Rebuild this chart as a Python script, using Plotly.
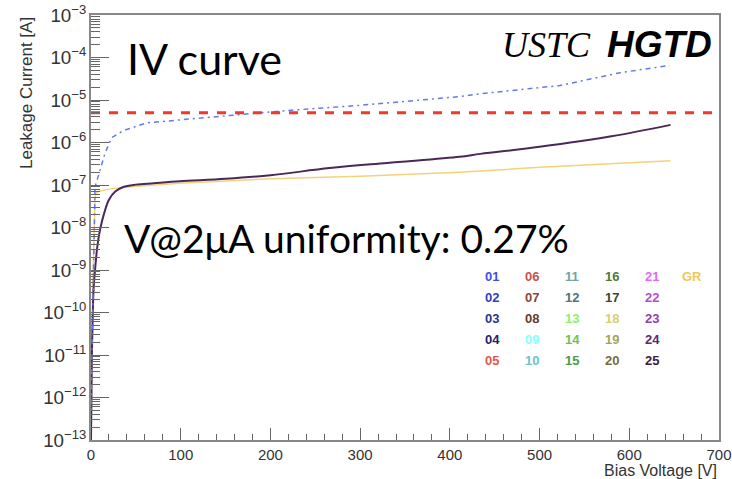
import plotly.graph_objects as go

# sensor 01 (blue, dash-dot) - reads off the picture
v_01 = [0, 1, 2, 3, 4.5, 10, 15.6, 23, 36, 62, 99, 150, 211, 300, 411, 434, 523, 590, 645]
i_01 = [5e-13, 1e-11, 5e-10, 1e-8, 9e-8, 2.2e-7, 5.6e-7, 1.3e-6, 1.9e-6, 2.9e-6, 3.4e-6,
        4.3e-6, 5.5e-6, 7.5e-6, 1.2e-5, 1.4e-5, 2.2e-5, 4.4e-5, 6.5e-5]

# sensor 25 (dark purple, solid) - the other pads sit underneath it
v_25 = [0, 0.5, 1, 2, 3, 4.5, 7, 10, 15, 20, 27, 36, 50, 70, 99, 150, 200, 266, 330,
        411, 434, 500, 580, 646]
i_25 = [1e-13, 1e-12, 1e-11, 1e-10, 4e-10, 1e-9, 3.5e-9, 8.7e-9, 2.3e-8, 4.5e-8, 7e-8,
        9e-8, 1.02e-7, 1.1e-7, 1.22e-7, 1.4e-7, 1.7e-7, 2.5e-7, 3.3e-7, 4.6e-7, 5.4e-7,
        7.9e-7, 1.4e-6, 2.6e-6]

# guard ring (yellow, solid)
v_gr = [1.5, 2, 2.5, 3, 3.5, 4, 4.5, 6, 10, 20, 40, 99, 200, 300, 411, 500, 646]
i_gr = [1.5e-10, 5e-10, 2e-9, 6e-9, 1.5e-8, 3e-8, 5e-8, 6.5e-8, 7.2e-8, 8e-8, 9e-8,
        1.1e-7, 1.4e-7, 1.6e-7, 2e-7, 2.6e-7, 3.7e-7]

limit_current = 5e-6
x_range = [0, 700]

legend_labels = ["01", "02", "03", "04", "05", "06", "07", "08", "09", "10",
                 "11", "12", "13", "14", "15", "16", "17", "18", "19", "20",
                 "21", "22", "23", "24", "25", "GR"]
legend_colors = ["#3d4fe6", "#2f3fb8", "#2b3592", "#1f2468", "#e8564a",
                 "#c4544c", "#8a4638", "#6a3a2c", "#86ffff", "#6cc3c8",
                 "#6aa6a6", "#4d7574", "#8cf06a", "#68c45a", "#4e9a46",
                 "#4d7a3a", "#45452f", "#d6d070", "#a6a35c", "#766c3c",
                 "#e468f2", "#b052c8", "#9442aa", "#5c2a72", "#3a1c40",
                 "#f2c85c"]

# plot-area box in pixels (ROOT canvas frame)
L, R, T, B = 91, 719, 15, 440


def px(x):
    return (x - L) / (R - L)


def py(y):
    return (B - y) / (B - T)


fig = go.Figure()

fig.add_trace(go.Scatter(x=v_gr, y=i_gr, mode="lines",
                         line=dict(color="#f5d27a", width=1.5)))
fig.add_trace(go.Scatter(x=v_25, y=i_25, mode="lines", line_shape="spline",
                         line=dict(color="#4a2858", width=2)))
fig.add_trace(go.Scatter(x=v_01, y=i_01, mode="lines",
                         line=dict(color="#6478f0", width=1.5, dash="2px,4px,5px,4px")))
fig.add_trace(go.Scatter(x=x_range, y=[limit_current, limit_current], mode="lines",
                         line=dict(color="#f0392b", width=3, dash="dash")))

# coloured-label legend grid
for k, (lab, col) in enumerate(zip(legend_labels, legend_colors)):
    c, r = divmod(k, 5)
    if lab == "GR":
        c, r = 5, 0
    fig.add_annotation(x=px(492 + c * 40), y=py(276 + r * 21), xref="paper", yref="paper",
                       text=f"<b>{lab}</b>", showarrow=False,
                       xanchor="center", yanchor="middle",
                       font=dict(family="Liberation Sans", size=13, color=col))

# text on the canvas
fig.add_annotation(x=px(125), y=py(58), xref="paper", yref="paper",
                   text="IV curve", showarrow=False, xanchor="left", yanchor="middle",
                   font=dict(family="Lato", size=43, color="black"))
fig.add_annotation(x=px(122), y=py(238), xref="paper", yref="paper",
                   text="V@2μA uniformity: 0.27%", showarrow=False, xanchor="left",
                   yanchor="middle", font=dict(family="Lato", size=39, color="black"))
fig.add_annotation(x=px(500), y=py(45), xref="paper", yref="paper",
                   text="<i>USTC</i>", showarrow=False, xanchor="left", yanchor="middle",
                   font=dict(family="Liberation Serif", size=36, color="black"))
fig.add_annotation(x=px(714), y=py(45), xref="paper", yref="paper",
                   text="<b><i>HGTD</i></b>", showarrow=False, xanchor="right",
                   yanchor="middle", font=dict(family="Liberation Sans", size=37, color="black"))

# axis titles, ROOT style (pushed to the end of the axis)
fig.add_annotation(x=px(26), y=1.0, xref="paper", yref="paper",
                   text="Leakage Current [A]", showarrow=False, textangle=-90,
                   xanchor="center", yanchor="top",
                   font=dict(family="Liberation Sans", size=17, color="#333"))
fig.add_annotation(x=1.0, y=py(470), xref="paper", yref="paper",
                   text="Bias Voltage [V]", showarrow=False, xanchor="right",
                   yanchor="middle", font=dict(family="Liberation Sans", size=16, color="#333"))

fig.update_xaxes(range=x_range, dtick=100, ticks="inside", ticklen=12, tickcolor="#666",
                 showline=True, linecolor="#888", linewidth=1.5, mirror=True,
                 showgrid=False, zeroline=False, automargin=False,
                 minor=dict(ticks="inside", ticklen=6, dtick=20, tickcolor="#666"),
                 tickfont=dict(family="Liberation Sans", size=15, color="#333"))
fig.update_yaxes(type="log", range=[-13, -3], dtick=1, exponentformat="power",
                 ticks="inside", ticklen=18, tickcolor="#666",
                 showline=True, linecolor="#888", linewidth=1.5, mirror=True,
                 showgrid=False, zeroline=False, automargin=False,
                 minor=dict(ticks="inside", ticklen=9, dtick="D1", tickcolor="#666"),
                 tickfont=dict(family="Liberation Sans", size=15, color="#333"))

fig.update_layout(width=732, height=479, showlegend=False,
                  margin=dict(l=L, r=732 - R, t=T, b=479 - B),
                  plot_bgcolor="white", paper_bgcolor="white")

# drop the browser's default 8px body margin so the canvas sits at (0, 0)
fig.write_html("out.html", config={"displayModeBar": False},
               post_script="document.body.style.margin='0';")
